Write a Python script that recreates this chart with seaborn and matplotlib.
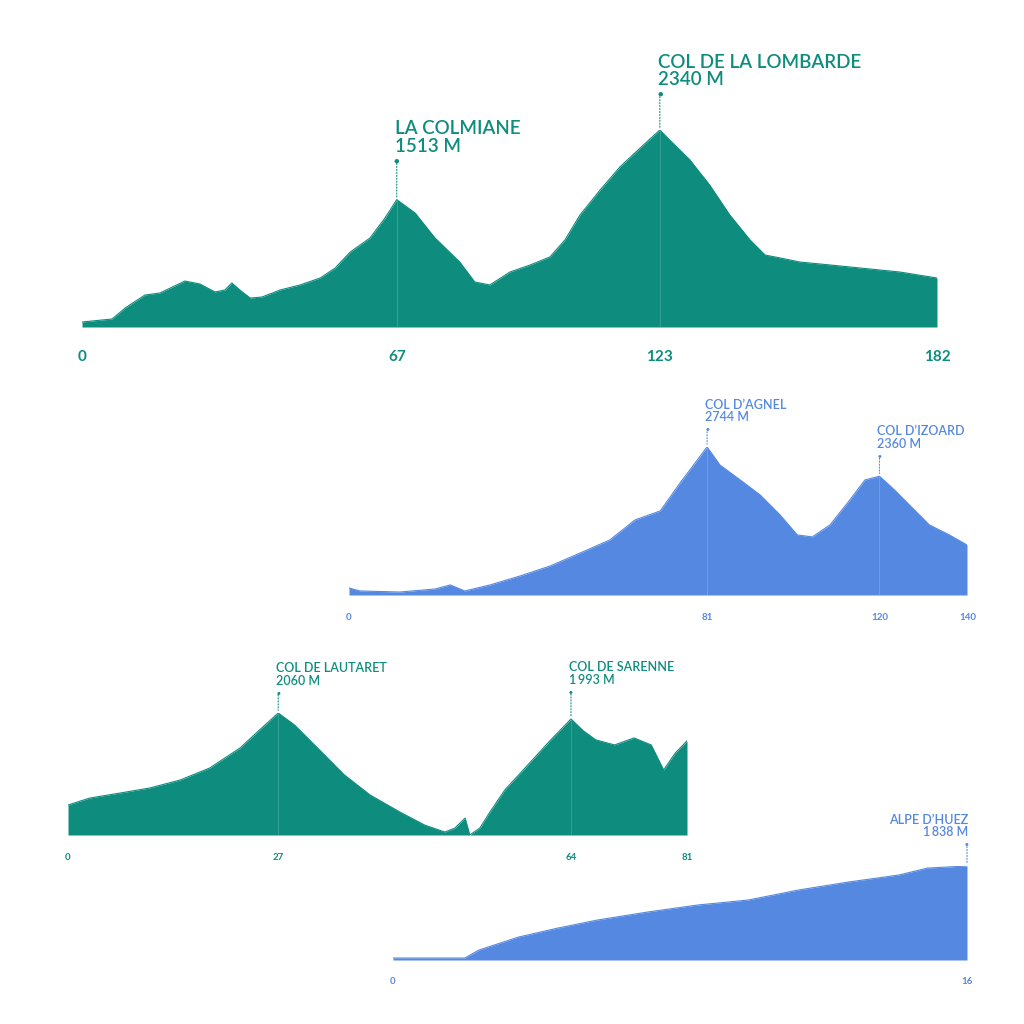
"""Elevation profiles of four mountain stages, drawn as filled seaborn lines.

Each profile is held as (km, metres) points and placed on its own axes.
"""

import matplotlib.pyplot as plt
import pandas as pd
import seaborn as sns

sns.set_theme(style="white")
plt.rcParams["font.family"] = ["Lato", "DejaVu Sans"]

TEAL = "#0e8c7e"
BLUE = "#5588e0"
W = H = 1024.0


# ---------------------------------------------------------------------------
# Profiles (km, elevation in metres)
# ---------------------------------------------------------------------------

STAGES = [
    {
        "rect": (82, 937, 327, 130), "xlim": (0, 182), "ylim": (0, 2340),
        "color": TEAL, "ticks": [0, 67, 123, 182], "tick_size": 11, "tick_y": 357,
        "label_size": 13.5, "tick_px": None,
        "km": [0, 6.4, 9.2, 13.4, 16.6, 21.9, 25.1, 28.3, 30.4, 31.9, 33.6, 35.8, 38.3,
               42.2, 46.4, 50.7, 53.9, 57.1, 61.3, 64.5, 67.0, 70.9, 75.1, 80.4, 83.6,
               86.8, 91.1, 95.4, 99.6, 102.8, 106.0, 110.3, 114.5, 118.8, 123.0, 125.1,
               129.4, 133.6, 137.9, 142.2, 145.4, 148.6, 152.8, 159.2, 165.6, 174.1, 182.0],
        "m": [59, 95, 226, 380, 404, 546, 511, 416, 439, 523, 439, 344, 356, 440, 499,
              582, 701, 891, 1057, 1295, 1513, 1354, 1060, 772, 535, 499, 653, 737, 832,
              1034, 1330, 1628, 1901, 2126, 2340, 2221, 1984, 1687, 1330, 1034, 855, 820,
              772, 737, 701, 653, 582],
        "peaks": [(67, 1513, "LA COLMIANE\n1513 M", "left", 28),
                  (123, 2340, "COL DE LA LOMBARDE\n2340 M", "left", 26)],
    },
    {
        "rect": (349, 967, 595, 447), "xlim": (0, 139.8), "ylim": (800, 2744),
        "color": BLUE, "ticks": [0, 81, 120, 140], "tick_size": 7, "tick_y": 617,
        "label_size": 9, "tick_px": None,
        "km": [0, 2.5, 11.5, 19.5, 22.9, 26.2, 31.9, 38.7, 45.5, 52.3, 59.0, 64.7, 70.4,
               74.9, 78.3, 81.0, 83.9, 88.5, 93.0, 97.5, 101.4, 104.8, 108.8, 113.3,
               116.7, 120.0, 123.4, 127.9, 131.3, 135.8, 139.8],
        "m": [892, 853, 839, 879, 932, 853, 932, 1050, 1181, 1352, 1523, 1786, 1904,
              2272, 2535, 2744, 2508, 2311, 2114, 1852, 1589, 1563, 1720, 2048, 2311,
              2360, 2180, 1917, 1720, 1589, 1457],
        "peaks": [(81, 2744, "COL D\u2019AGNEL\n2744 M", "left", 13),
                  (120, 2360, "COL D\u2019IZOARD\n2360 M", "left", 15)],
    },
    {
        "rect": (68, 687, 835, 713), "xlim": (0, 79.5), "ylim": (700, 2060),
        "color": TEAL, "ticks": [0, 27, 64, 81], "tick_size": 7, "tick_y": 857,
        "label_size": 9, "tick_px": [68, 278, 571, 687],
        "km": [0, 2.8, 6.7, 10.5, 14.4, 18.2, 22.1, 24.6, 27.0, 29.1, 32.3, 35.5, 38.8,
               42.6, 45.8, 48.4, 49.7, 51.0, 51.6, 52.9, 54.2, 56.1, 58.7, 62.0, 64.6,
               66.2, 67.8, 70.2, 72.7, 74.9, 76.5, 78.0, 79.5],
        "m": [1034, 1112, 1168, 1224, 1313, 1447, 1670, 1871, 2060, 1926, 1648, 1369,
              1146, 957, 811, 733, 778, 889, 700, 778, 957, 1202, 1447, 1760, 1993,
              1860, 1760, 1704, 1782, 1704, 1425, 1615, 1749],
        "peaks": [(27, 2060, "COL DE LAUTARET\n2060 M", "left", 15),
                  (64.6, 1993, "COL DE SARENNE\n1\u2009993 M", "left", 20)],
    },
    {
        "rect": (393, 967, 960, 866), "xlim": (0, 16), "ylim": (700, 1838),
        "color": BLUE, "ticks": [0, 16], "tick_size": 7, "tick_y": 982,
        "label_size": 9, "tick_px": None,
        "km": [0, 2.0, 2.4, 3.5, 4.6, 5.7, 7.1, 8.5, 9.9, 11.3, 12.7, 14.1, 14.9, 16.0],
        "m": [724, 724, 821, 978, 1087, 1184, 1281, 1366, 1426, 1547, 1644, 1729,
              1813, 1838],
        "peaks": [(16, 1838, "ALPE D\u2019HUEZ\n1\u2009838 M", "right", 16)],
    },
]


def draw_stage(fig, stage):
    """Draw one filled elevation profile with its peak labels."""
    left, right, bottom, top = stage["rect"]
    ax = fig.add_axes([left / W, 1 - bottom / H, (right - left) / W, (bottom - top) / H])
    df = pd.DataFrame({"km": stage["km"], "m": stage["m"]})
    color = stage["color"]

    sns.lineplot(data=df, x="km", y="m", color=color, linewidth=0.8, ax=ax)
    ax.fill_between(df["km"], stage["ylim"][0], df["m"], color=color, linewidth=0)
    ax.set_xlim(*stage["xlim"])
    ax.set_ylim(*stage["ylim"])
    ax.axis("off")

    for km, elev, text, ha, dot in stage["peaks"]:
        ax.vlines(km, stage["ylim"][0], elev, color="white", linewidth=0.4, alpha=0.3)
        ax.annotate("", xy=(km, elev), xytext=(0, dot), textcoords="offset points",
                    annotation_clip=False,
                    arrowprops=dict(arrowstyle="-", color=color, linestyle=":", linewidth=0.8))
        dx = -1.5 if ha == "left" else 1
        ax.annotate(text, xy=(km, elev), xytext=(dx, dot + 4),
                    textcoords="offset points", ha=ha, va="bottom", color=color,
                    fontsize=stage["label_size"], fontweight="semibold",
                    linespacing=1.05, annotation_clip=False)
        ax.annotate("\u25cf", xy=(km, elev), xytext=(0, dot),
                    textcoords="offset points", ha="center", va="center", color=color,
                    fontsize=stage["label_size"] * 0.5, annotation_clip=False)

    tick_px = stage["tick_px"] or [
        left + (t - stage["xlim"][0]) / (stage["xlim"][1] - stage["xlim"][0]) * (right - left)
        for t in stage["ticks"]
    ]
    for t, x in zip(stage["ticks"], tick_px):
        fig.text(x / W, 1 - stage["tick_y"] / H, str(t), ha="center", va="center",
                 color=color, fontsize=stage["tick_size"], fontweight="bold")
    return ax


fig = plt.figure(figsize=(10.24, 10.24), dpi=100)
fig.patch.set_facecolor("white")
for stage in STAGES:
    draw_stage(fig, stage)

fig.savefig("out.png", dpi=100, facecolor="white")
